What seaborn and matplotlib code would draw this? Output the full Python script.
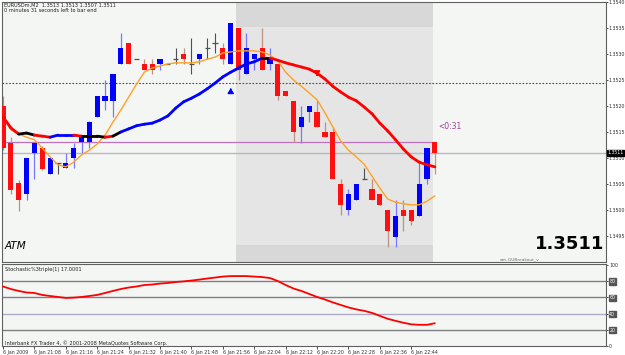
import matplotlib
matplotlib.use("Agg")
import matplotlib.pyplot as plt
import seaborn as sns
import pandas as pd
import numpy as np

# ---------------- data ----------------
opens  = [1.35200, 1.35129, 1.35052, 1.35031, 1.35110, 1.35119, 1.35069, 1.35090, 1.35081, 1.35100,
          1.35131, 1.35131, 1.35179, 1.35210, 1.35210, 1.35281, 1.35321, 1.35290, 1.35281, 1.35281,
          1.35281, 1.35281, 1.35290, 1.35300, 1.35281, 1.35290, 1.35312, 1.35321, 1.35312, 1.35281,
          1.35350, 1.35262, 1.35290, 1.35312, 1.35281, 1.35281, 1.35229, 1.35210, 1.35160, 1.35188,
          1.35188, 1.35150, 1.35150, 1.35050, 1.35000, 1.35019, 1.35060, 1.35040, 1.35031, 1.35000,
          1.34948, 1.35000, 1.35000, 1.34988, 1.35060, 1.35130]
highs  = [1.35219, 1.35140, 1.35058, 1.35100, 1.35129, 1.35123, 1.35100, 1.35090, 1.35110, 1.35129,
          1.35140, 1.35172, 1.35219, 1.35250, 1.35262, 1.35340, 1.35321, 1.35290, 1.35290, 1.35290,
          1.35290, 1.35281, 1.35312, 1.35312, 1.35331, 1.35300, 1.35331, 1.35340, 1.35321, 1.35360,
          1.35350, 1.35340, 1.35300, 1.35350, 1.35312, 1.35281, 1.35229, 1.35210, 1.35200, 1.35200,
          1.35212, 1.35169, 1.35160, 1.35060, 1.35040, 1.35050, 1.35081, 1.35060, 1.35031, 1.35000,
          1.35019, 1.35019, 1.35000, 1.35090, 1.35119, 1.35130]
lows   = [1.35115, 1.35031, 1.34998, 1.35019, 1.35060, 1.35077, 1.35069, 1.35069, 1.35081, 1.35081,
          1.35110, 1.35119, 1.35179, 1.35192, 1.35179, 1.35281, 1.35281, 1.35290, 1.35269, 1.35262,
          1.35269, 1.35281, 1.35281, 1.35281, 1.35262, 1.35281, 1.35290, 1.35302, 1.35281, 1.35281,
          1.35250, 1.35262, 1.35269, 1.35269, 1.35269, 1.35212, 1.35219, 1.35131, 1.35129, 1.35169,
          1.35160, 1.35140, 1.35060, 1.34990, 1.34990, 1.35019, 1.35060, 1.35019, 1.35010, 1.34929,
          1.34929, 1.34960, 1.34971, 1.34988, 1.35050, 1.35070]
closes = [1.35119, 1.35038, 1.35019, 1.35100, 1.35129, 1.35079, 1.35100, 1.35090, 1.35090, 1.35119,
          1.35140, 1.35169, 1.35219, 1.35219, 1.35262, 1.35312, 1.35281, 1.35290, 1.35269, 1.35269,
          1.35290, 1.35281, 1.35290, 1.35290, 1.35281, 1.35300, 1.35312, 1.35321, 1.35290, 1.35360,
          1.35269, 1.35312, 1.35300, 1.35269, 1.35290, 1.35219, 1.35219, 1.35150, 1.35179, 1.35200,
          1.35160, 1.35140, 1.35060, 1.35010, 1.35031, 1.35050, 1.35060, 1.35019, 1.35010, 1.34960,
          1.34988, 1.34988, 1.34979, 1.35050, 1.35119, 1.35110]

fast_ma = [1.35179, 1.35154, 1.35146, 1.35140, 1.35135, 1.35119, 1.35102, 1.35087, 1.35083, 1.35092,
           1.35106, 1.35115, 1.35127, 1.35144, 1.35169, 1.35192, 1.35217, 1.35242, 1.35265, 1.35273,
           1.35277, 1.35281, 1.35283, 1.35283, 1.35283, 1.35285, 1.35290, 1.35294, 1.35302, 1.35304,
           1.35306, 1.35306, 1.35306, 1.35304, 1.35298, 1.35287, 1.35265, 1.35250, 1.35238, 1.35225,
           1.35212, 1.35187, 1.35160, 1.35133, 1.35115, 1.35102, 1.35088, 1.35065, 1.35042, 1.35021,
           1.35015, 1.35012, 1.35010, 1.35010, 1.35017, 1.35027]
slow_ma = [1.35179, 1.35158, 1.35146, 1.35148, 1.35144, 1.35142, 1.35140, 1.35144, 1.35144, 1.35144,
           1.35142, 1.35142, 1.35142, 1.35140, 1.35142, 1.35150, 1.35156, 1.35162, 1.35165, 1.35167,
           1.35173, 1.35181, 1.35196, 1.35208, 1.35215, 1.35223, 1.35233, 1.35244, 1.35256, 1.35265,
           1.35273, 1.35281, 1.35285, 1.35292, 1.35292, 1.35288, 1.35283, 1.35279, 1.35275, 1.35271,
           1.35263, 1.35252, 1.35238, 1.35227, 1.35217, 1.35210, 1.35198, 1.35185, 1.35167, 1.35152,
           1.35135, 1.35117, 1.35102, 1.35092, 1.35087, 1.35083]
slow_trend = "RRKKRRBBBRKKKRK" + "B" * 18 + "K" + "R" * 21   # colour of each segment

stoch = [73.3, 70.2, 67.8, 65.9, 65.3, 62.9, 61.6, 60.4, 59.2, 59.6,
         60.4, 61.6, 62.9, 65.3, 67.8, 70.2, 72.0, 73.3, 75.1, 75.7,
         76.9, 77.6, 78.8, 79.6, 80.6, 81.8, 83.1, 84.3, 85.5, 86.1,
         86.1, 86.1, 85.5, 84.9, 83.7, 80.0, 75.1, 70.8, 67.8, 64.1,
         60.4, 57.3, 53.7, 50.6, 47.5, 45.1, 43.3, 40.8, 37.1, 33.5,
         31.0, 28.6, 26.7, 26.1, 26.1, 28.0]

price_ticks = [1.3540, 1.3535, 1.3530, 1.3525, 1.3520, 1.3515, 1.3510, 1.3505, 1.3500, 1.3495]
stoch_levels = [20, 40, 60, 80]
time_label_bars = [0, 4, 8, 12, 16, 20, 24, 28, 32, 36, 40, 44, 48, 52]
time_labels = ["6 Jan 2009", "6 Jan 21:08", "6 Jan 21:16", "6 Jan 21:24", "6 Jan 21:32",
               "6 Jan 21:40", "6 Jan 21:48", "6 Jan 21:56", "6 Jan 22:04", "6 Jan 22:12",
               "6 Jan 22:20", "6 Jan 22:28", "6 Jan 22:36", "6 Jan 22:44"]
bid_price = 1.3511
open_line = 1.3513
pivot_line = 1.35244
box_bars = (29.7, 54.8)
box_outer = (1.3490, 1.3541)
box_inner = (1.34933, 1.35352)
up_arrow = (29, 1.35240)
down_arrow = (40, 1.35265)

# ---------------- figure ----------------
sns.set_theme(style="white")
plt.rcParams['font.family'] = ['DejaVu Sans']
W, H = 625, 355
fig = plt.figure(figsize=(W / 100, H / 100), dpi=100, facecolor="white")
bg = "#f4f6f4"

ax = fig.add_axes([2 / W, 1 - 262 / H, 604 / W, 260 / H], facecolor=bg)
axs = fig.add_axes([2 / W, 1 - 346 / H, 604 / W, 82 / H], facecolor=bg)

n = len(opens)
xs = np.arange(n)
xlim = (-0.13, 76.8)

# session box
ax.fill_between(box_bars, box_outer[0], box_outer[1], color="#d8d8d8", zorder=0, lw=0)
ax.fill_between(box_bars, box_inner[0], box_inner[1], color="#e4e5e4", zorder=0.1, lw=0)

# horizontal lines
ax.axhline(pivot_line, color="#604040", lw=0.8, ls=(0, (1.5, 1.5)), zorder=1)
ax.plot([xlim[0], n - 1], [open_line, open_line], color="#c070c0", lw=0.9, zorder=1)
ax.axhline(bid_price, color="#b8b8b8", lw=1.0, zorder=1)

# candles
width = 0.66
for i in range(n):
    o, h, l, c = opens[i], highs[i], lows[i], closes[i]
    if abs(c - o) < 1e-7:
        ax.vlines(i, l, h, color="#505050", lw=0.8, zorder=2)
        ax.hlines(c, i - width / 2, i + width / 2, color="#505050", lw=0.9, zorder=2)
        continue
    up = c > o
    body_col = "#0000ff" if up else "#ff0f0f"
    wick_col = "#7878ff" if up else "#c09080"
    ax.vlines(i, l, h, color=wick_col, lw=0.9, zorder=2)
    ax.bar(i, abs(c - o), bottom=min(o, c), width=width, color=body_col, lw=0, zorder=3)

# moving averages
df = pd.DataFrame({"bar": xs, "fast": fast_ma, "slow": slow_ma, "stoch": stoch})
sns.lineplot(data=df, x="bar", y="fast", ax=ax, color="#ffa126", lw=1.0, zorder=4)
cmap = {"R": "#ff0000", "B": "#0000ff", "K": "#000000"}
for k, s in enumerate(slow_trend):
    seg = df.iloc[k:k + 2]
    sns.lineplot(data=seg, x="bar", y="slow", ax=ax, color=cmap[s], lw=2.0, zorder=5,
                 solid_capstyle="round")

# arrows
ax.annotate("", xy=(up_arrow[0], up_arrow[1]), xytext=(up_arrow[0], up_arrow[1] - 0.00013),
            arrowprops=dict(arrowstyle="-|>,head_width=0.15,head_length=0.25", color="#0000ff", lw=1.0))
ax.annotate("", xy=(down_arrow[0], down_arrow[1] - 0.00008), xytext=(down_arrow[0], down_arrow[1]),
            arrowprops=dict(arrowstyle="-|>,head_width=0.15,head_length=0.25", color="#ff0000", lw=1.0))

ax.set_xlim(*xlim)
ax.set_ylim(1.3490, 1.3540)
ax.set_xlabel("")
ax.set_ylabel("")
ax.set_xticks([])
ax.yaxis.tick_right()
ax.set_yticks(price_ticks)
ax.set_yticklabels([f"{p:.4f}" for p in price_ticks], fontsize=3.4, color="#303030")
ax.tick_params(axis="y", length=1.5, width=0.6, pad=0.5, colors="#303030", right=True)
for sp in ax.spines.values():
    sp.set_color("#606060")
    sp.set_linewidth(0.8)

# texts in main panel
ax.text(55.4, 1.35160, "<0:31", fontsize=5.5, color="#9a3e9a", va="center", ha="left")
ax.text(0.2, 1.34930, "ATM", fontsize=7.5, style="italic", color="#000000", va="center", ha="left")
ax.text(76.6, 1.34935, "1.3511", fontsize=13, fontweight="bold", color="#000000", va="center", ha="right")
ax.text(63.3, 1.34905, "ant-GUBreakout_v", fontsize=3.2, color="#707070", va="center", ha="left")
ax.text(77.0, bid_price, f"{bid_price:.4f}", fontsize=3.3, color="white", va="center", ha="left",
        transform=ax.transData, clip_on=False,
        bbox=dict(boxstyle="square,pad=0.1", fc="#000000", ec="#000000"))
fig.text(4 / W, 1 - 5 / H, "EURUSDm,M2  1.3513 1.3513 1.3507 1.3511", fontsize=3.6, color="#202020",
         va="center", ha="left")
fig.text(4 / W, 1 - 11 / H, "0 minutes 31 seconds left to bar end", fontsize=3.6, color="#202020",
         va="center", ha="left")

# stochastic panel
for lv in stoch_levels:
    axs.axhline(lv, color="#b0a8c8" if lv == 40 else "#808080", lw=1.0, zorder=1)
sns.lineplot(data=df, x="bar", y="stoch", ax=axs, color="#ff0000", lw=1.3, zorder=3)
axs.set_xlim(*xlim)
axs.set_ylim(0, 101)
axs.set_xlabel("")
axs.set_ylabel("")
axs.yaxis.tick_right()
axs.set_yticks([0] + stoch_levels + [100])
axs.set_yticklabels(["0"] + [str(v) for v in stoch_levels] + ["100"], fontsize=3.4, color="#303030")
axs.tick_params(axis="y", length=1.5, width=0.6, pad=0.8, colors="#303030", right=True)
for lab in axs.get_yticklabels():
    if lab.get_text() in [str(v) for v in stoch_levels]:
        lab.set_color("white")
        lab.set_bbox(dict(boxstyle="square,pad=0.12", fc="#555555", ec="#555555"))
axs.set_xticks(time_label_bars)
axs.set_xticklabels(time_labels, fontsize=3.4, color="#303030", ha="left")
axs.tick_params(axis="x", length=2, width=0.6, pad=1, colors="#303030", bottom=True)
for sp in axs.spines.values():
    sp.set_color("#606060")
    sp.set_linewidth(0.8)
axs.text(0.2, 97, "Stochastic%3triple(1) 17.0001", fontsize=3.6, color="#202020", va="top", ha="left")
axs.text(0.2, 4, "Interbank FX Trader 4, \u00a9 2001-2008 MetaQuotes Software Corp.", fontsize=3.6,
         color="#202020", va="center", ha="left")

fig.savefig("out.png", dpi=100, facecolor="white")
